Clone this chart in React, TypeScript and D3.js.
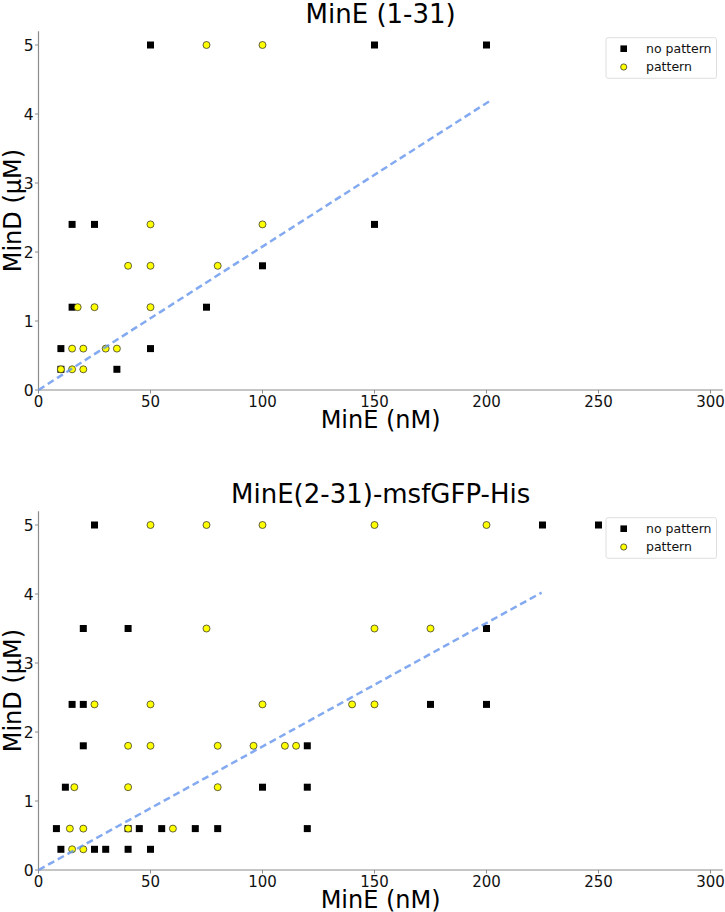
import React from "react";
import * as d3 from "d3";

// ---- Data ----
const topTitle = "MinE (1-31)";
const bottomTitle = "MinE(2-31)-msfGFP-His";

const topNoPatternX = [50, 150, 200, 15, 25, 150, 100, 15, 75, 10, 50, 10, 35];
const topNoPatternY = [5, 5, 5, 2.4, 2.4, 2.4, 1.8, 1.2, 1.2, 0.6, 0.6, 0.3, 0.3];
const topPatternX = [75, 100, 50, 100, 40, 50, 80, 17.5, 25, 50, 15, 20, 30, 35, 10, 15, 20];
const topPatternY = [5, 5, 2.4, 2.4, 1.8, 1.8, 1.8, 1.2, 1.2, 1.2, 0.6, 0.6, 0.6, 0.6, 0.3, 0.3, 0.3];
const topFitX = [0, 202.5];
const topFitY = [0, 4.21];

const botNoPatternX = [25, 225, 250, 20, 40, 200, 15, 20, 175, 200, 20, 120, 12, 100, 120, 8, 40, 45, 55, 70, 80, 120, 10, 25, 30, 40, 50];
const botNoPatternY = [5, 5, 5, 3.5, 3.5, 3.5, 2.4, 2.4, 2.4, 2.4, 1.8, 1.8, 1.2, 1.2, 1.2, 0.6, 0.6, 0.6, 0.6, 0.6, 0.6, 0.6, 0.3, 0.3, 0.3, 0.3, 0.3];
const botPatternX = [50, 75, 100, 150, 200, 75, 150, 175, 25, 50, 100, 140, 150, 40, 50, 80, 96, 110, 115, 16, 40, 80, 14, 20, 40, 60, 15, 20];
const botPatternY = [5, 5, 5, 5, 5, 3.5, 3.5, 3.5, 2.4, 2.4, 2.4, 2.4, 2.4, 1.8, 1.8, 1.8, 1.8, 1.8, 1.8, 1.2, 1.2, 1.2, 0.6, 0.6, 0.6, 0.6, 0.3, 0.3];
const botFitX = [0, 224.6];
const botFitY = [0, 4.02];

const xTicks = [0, 50, 100, 150, 200, 250, 300];
const yTicks = [0, 1, 2, 3, 4, 5];
const legendLabels = ["no pattern", "pattern"];
const xLabel = "MinE (nM)";
const yLabel = "MinD (\u03bcM)";

const FONT = "DejaVu Sans, sans-serif";

type PanelProps = {
  top: number;
  title: string;
  npx: number[];
  npy: number[];
  px: number[];
  py: number[];
  fx: number[];
  fy: number[];
};

function Panel({ top, title, npx, npy, px, py, fx, fy }: PanelProps) {
  const left = 38.5;
  const right = 722.8;
  const yTop = top;
  const yBot = top + 358.8;
  const x = d3.scaleLinear().domain([0, 305.5]).range([left, right]);
  const y = d3.scaleLinear().domain([0, 5.2]).range([yBot, yTop]);
  const line = d3
    .line<[number, number]>()
    .x((d) => x(d[0]))
    .y((d) => y(d[1]));
  const fitPts: [number, number][] = fx.map((v, i) => [v, fy[i]]);
  const sq = 7;
  const lx = 606;
  const ly = yTop + 6.5;
  return (
    <g>
      <text x={(left + right) / 2} y={yTop - 8.3} textAnchor="middle" fontSize={26} fontFamily={FONT} fill="#000">
        {title}
      </text>
      {/* spines */}
      <line x1={left} x2={left} y1={yTop} y2={yBot} stroke="#8c8c8c" strokeWidth={1.2} />
      <line x1={left} x2={right} y1={yBot} y2={yBot} stroke="#8c8c8c" strokeWidth={1.2} />
      {xTicks.map((t) => (
        <g key={"x" + t}>
          <line x1={x(t)} x2={x(t)} y1={yBot} y2={yBot + 3.5} stroke="#8c8c8c" strokeWidth={1} />
          <text x={x(t)} y={yBot + 16.5} textAnchor="middle" fontSize={15} fontFamily={FONT} fill="#111">
            {t}
          </text>
        </g>
      ))}
      {yTicks.map((t) => (
        <g key={"y" + t}>
          <line x1={left - 3.5} x2={left} y1={y(t)} y2={y(t)} stroke="#8c8c8c" strokeWidth={1} />
          <text x={left - 5} y={y(t)} dy="0.36em" textAnchor="end" fontSize={15.5} fontFamily={FONT} fill="#111">
            {t}
          </text>
        </g>
      ))}
      <text x={(left + right) / 2} y={yBot + 38} textAnchor="middle" fontSize={24} fontFamily={FONT} fill="#000">
        {xLabel}
      </text>
      <text
        transform={`translate(${21},${(yTop + yBot) / 2}) rotate(-90)`}
        textAnchor="middle"
        fontSize={24}
        fontFamily={FONT}
        fill="#000"
      >
        {yLabel}
      </text>
      {npx.map((v, i) => (
        <rect key={"s" + i} x={x(v) - sq / 2} y={y(npy[i]) - sq / 2} width={sq} height={sq} fill="#000" />
      ))}
      {px.map((v, i) => (
        <circle key={"c" + i} cx={x(v)} cy={y(py[i])} r={3.5} fill="#ffff00" stroke="#222" strokeWidth={0.7} />
      ))}
      <path
        d={line(fitPts) || ""}
        fill="none"
        stroke="#6495ED"
        strokeOpacity={0.8}
        strokeWidth={2.5}
        strokeDasharray="7,4"
      />
      {/* legend */}
      <rect x={lx} y={ly} width={110.5} height={40.6} rx={2} fill="#fff" fillOpacity={0.85} stroke="#d6d6d6" strokeWidth={0.8} />
      <rect x={623.7 - 3.3} y={ly + 11 - 3.3} width={6.6} height={6.6} fill="#000" />
      <circle cx={623.7} cy={ly + 29.3} r={3.1} fill="#ffff00" stroke="#222" strokeWidth={0.7} />
      <text x={646} y={ly + 15.3} fontSize={12.5} fontFamily={FONT} fill="#111">
        {legendLabels[0]}
      </text>
      <text x={646} y={ly + 33.6} fontSize={12.5} fontFamily={FONT} fill="#111">
        {legendLabels[1]}
      </text>
    </g>
  );
}

export default function App() {
  return (
    <svg
      width={725}
      height={912}
      style={{ position: "absolute", left: 0, top: 0, background: "#fff" }}
    >
      <rect width={725} height={912} fill="#fff" />
      <Panel top={31.2} title={topTitle} npx={topNoPatternX} npy={topNoPatternY} px={topPatternX} py={topPatternY} fx={topFitX} fy={topFitY} />
      <Panel top={511.2} title={bottomTitle} npx={botNoPatternX} npy={botNoPatternY} px={botPatternX} py={botPatternY} fx={botFitX} fy={botFitY} />
    </svg>
  );
}
